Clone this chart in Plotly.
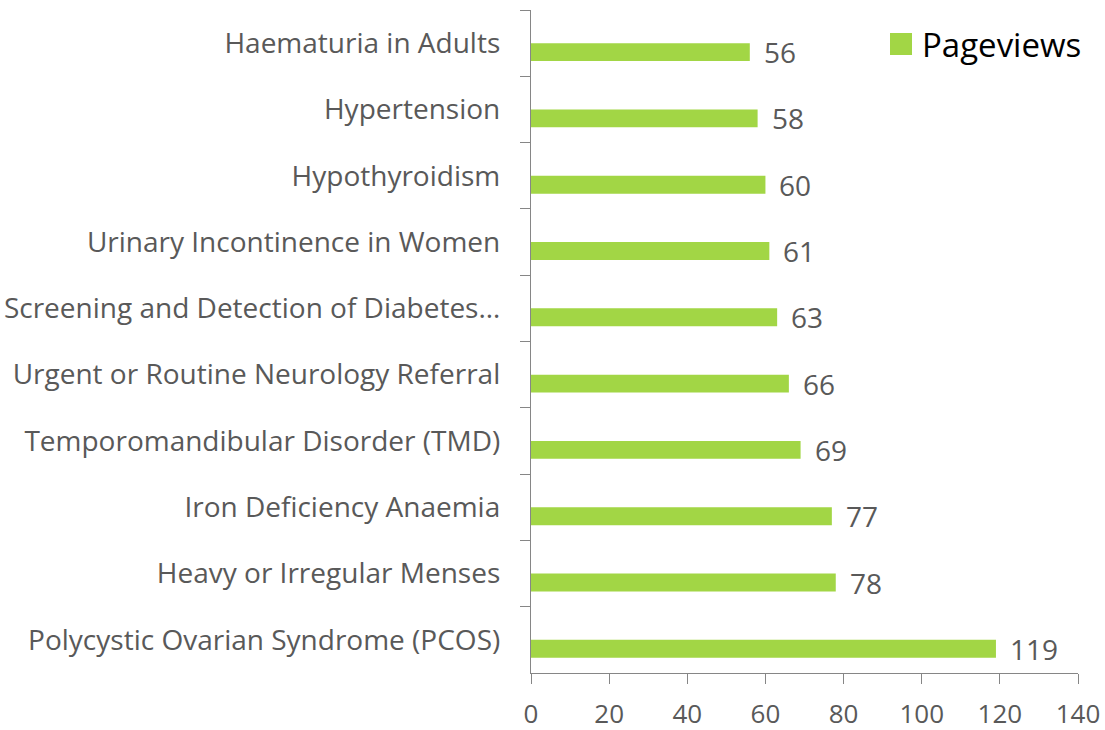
import plotly.graph_objects as go

categories = [
    "Haematuria in Adults",
    "Hypertension",
    "Hypothyroidism",
    "Urinary Incontinence in Women",
    "Screening and Detection of Diabetes…",
    "Urgent or Routine Neurology Referral",
    "Temporomandibular Disorder (TMD)",
    "Iron Deficiency Anaemia",
    "Heavy or Irregular Menses",
    "Polycystic Ovarian Syndrome (PCOS)",
]
pageviews = [56, 58, 60, 61, 63, 66, 69, 77, 78, 119]
x_ticks = [0, 20, 40, 60, 80, 100, 120, 140]
series_name = "Pageviews"

GREEN = "#A2D645"
GREY_TXT = "#595959"
AXIS = "#868686"
FONT = "Open Sans"

fig = go.Figure()
fig.add_trace(go.Bar(
    x=pageviews, y=categories, orientation="h",
    marker=dict(color=GREEN, line=dict(width=0)),
    width=0.27, offset=0, name=series_name, showlegend=False,
    hoverinfo="x+y",
))

annotations = []
for cat, v in zip(categories, pageviews):
    annotations.append(dict(
        x=v, y=cat, xref="x", yref="y", text=str(v), showarrow=False,
        xanchor="left", yanchor="middle", xshift=12, yshift=-9,
        font=dict(family=FONT, size=28, color=GREY_TXT),
    ))
# legend text
annotations.append(dict(
    x=0.711, y=0.9487, xref="paper", yref="paper", text=series_name,
    showarrow=False, xanchor="left", yanchor="middle",
    font=dict(family=FONT, size=33, color="#000000"),
))

fig.update_layout(
    width=1105, height=730,
    margin=dict(l=531, r=27, t=10, b=57, autoexpand=False),
    paper_bgcolor="white", plot_bgcolor="white",
    font=dict(family=FONT, size=28, color=GREY_TXT),
    bargap=0.73,
    annotations=annotations,
    shapes=[dict(type="rect", xref="paper", yref="paper",
                 x0=0.6563, x1=0.6965, y0=0.9321, y1=0.9653,
                 fillcolor=GREEN, line=dict(width=0))],
    xaxis=dict(
        range=[0, 140], tickvals=x_ticks, ticktext=[str(t) for t in x_ticks],
        showgrid=False, zeroline=False, showline=True, linecolor=AXIS,
        linewidth=1.3, ticks="outside", ticklen=10, tickcolor=AXIS, tickwidth=1.3,
        tickfont=dict(family=FONT, size=26, color=GREY_TXT),
        ticklabelstandoff=8, automargin=False,
    ),
    yaxis=dict(
        categoryorder="array", categoryarray=categories, autorange="reversed",
        showgrid=False, zeroline=False, showline=True, linecolor=AXIS,
        linewidth=1.3, ticks="outside", ticklen=10, tickcolor=AXIS, tickwidth=1.3,
        tickson="boundaries",
        tickfont=dict(family=FONT, size=28, color=GREY_TXT),
        ticklabelstandoff=24, automargin=False,
    ),
)

# remove the browser's default 8px body margin so the figure fills the window
fig.write_html(
    "out.html",
    config={"displayModeBar": False},
    post_script="document.body.style.margin='0';document.body.style.overflow='hidden';",
)
